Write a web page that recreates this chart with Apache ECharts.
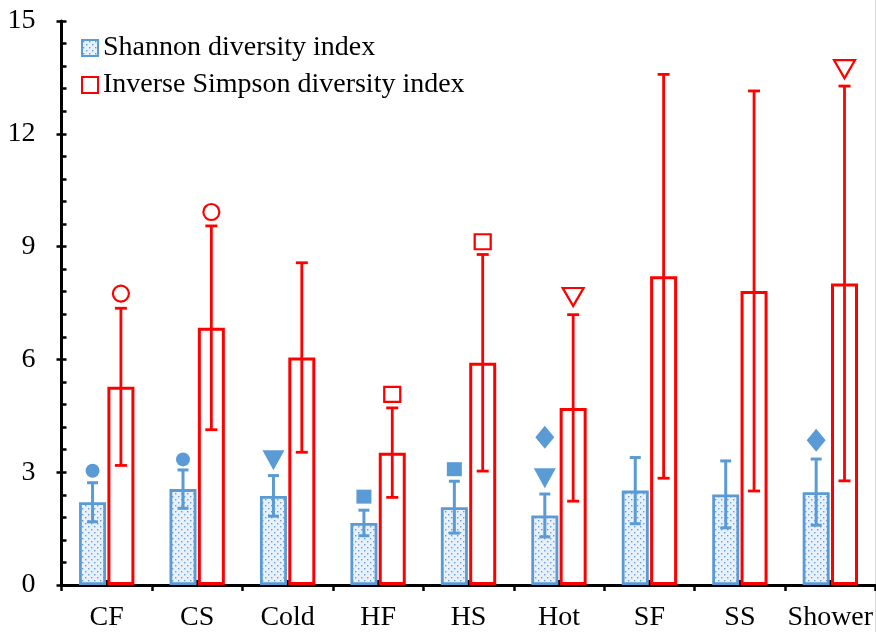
<!DOCTYPE html>
<html>
<head>
<meta charset="utf-8">
<script src="https://cdn.jsdelivr.net/npm/echarts@6/dist/echarts.min.js"></script>
<style>
  html, body { margin: 0; padding: 0; background: #fff; }
  #chart { width: 876px; height: 632px; }
</style>
</head>
<body>
<div id="chart"></div>
<script>
// Sampling sites
const categories = ['CF', 'CS', 'Cold', 'HF', 'HS', 'Hot', 'SF', 'SS', 'Shower'];

// Shannon diversity index: mean and standard deviation
const shannonMean = [2.20, 2.55, 2.37, 1.65, 2.07, 1.85, 2.51, 2.41, 2.47];
const shannonSD   = [0.52, 0.51, 0.54, 0.34, 0.69, 0.57, 0.88, 0.89, 0.88];

// Inverse Simpson diversity index: mean and standard deviation
const simpsonMean = [5.27, 6.84, 6.05, 3.52, 5.91, 4.71, 8.21, 7.82, 8.02];
const simpsonSD   = [2.09, 2.71, 2.52, 1.19, 2.88, 2.48, 5.37, 5.32, 5.25];

// Significance markers above the bars (null = no marker)
const shannonMarkValues = [3.04, 3.34, 3.32, 2.35, 3.08, 2.84, null, null, 3.85];
const shannonMarkShapes = ['circle', 'circle', 'down', 'square', 'square', 'down', null, null, 'diamond'];
const shannonExtraValues = [null, null, null, null, null, 3.93, null, null, null];
const shannonExtraShapes = [null, null, null, null, null, 'diamond', null, null, null];
const simpsonMarkValues = [7.75, 9.92, null, 5.07, 9.13, 7.66, null, null, 13.72];
const simpsonMarkShapes = ['circle', 'circle', null, 'square', 'square', 'down', null, null, 'down'];

// Y axis ticks
const yMin = 0, yMax = 15, yStep = 3;

const BLUE = '#5B9BD5';
const RED = '#FF0000';
const FONT = 'Liberation Serif';
const BAR_W = 27;
const BAR_GAP = 0.05;
const HALF = BAR_W * (1 + BAR_GAP) / 2;

// dotted fill for the Shannon bars
function dotPattern() {
  const c = document.createElement('canvas');
  c.width = 6; c.height = 6;
  const g = c.getContext('2d');
  g.fillStyle = '#e8f0f9';
  g.fillRect(0, 0, 6, 6);
  g.fillStyle = '#6a9fd3';
  g.fillRect(1, 1, 1.4, 1.4);
  g.fillRect(4, 4, 1.4, 1.4);
  return c;
}

const DOWN = 'path://M0,0L2,0L1,1.75Z';
const blueSymbols = {
  circle:  { symbol: 'circle', size: 14 },
  square:  { symbol: 'rect', size: [15, 14] },
  down:    { symbol: DOWN, size: [22, 20] },
  diamond: { symbol: 'diamond', size: [19, 23] }
};
const redSymbols = {
  circle:  { symbol: 'circle', size: 16 },
  square:  { symbol: 'rect', size: [16, 15] },
  down:    { symbol: DOWN, size: [21, 18] }
};

function markerData(values, shapes, table) {
  const out = [];
  values.forEach((v, i) => {
    if (v == null) return;
    const s = table[shapes[i]];
    out.push({ value: [i, v], symbol: s.symbol, symbolSize: s.size });
  });
  return out;
}

function errorBars(means, sds, offset, color, lineW, capW) {
  return {
    type: 'custom',
    xAxisIndex: 0, yAxisIndex: 0,
    z: 5,
    silent: true,
    data: means.map((m, i) => [i, m - sds[i], m + sds[i]]),
    encode: { x: 0, y: [1, 2] },
    renderItem: function (params, api) {
      const lo = api.coord([api.value(0), api.value(1)]);
      const hi = api.coord([api.value(0), api.value(2)]);
      const x = lo[0] + offset;
      const st = { stroke: color, lineWidth: lineW };
      return {
        type: 'group',
        children: [
          { type: 'line', shape: { x1: x, y1: hi[1], x2: x, y2: lo[1] }, style: st },
          { type: 'line', shape: { x1: x - capW / 2, y1: hi[1], x2: x + capW / 2, y2: hi[1] }, style: st },
          { type: 'line', shape: { x1: x - capW / 2, y1: lo[1], x2: x + capW / 2, y2: lo[1] }, style: st }
        ]
      };
    }
  };
}

const chart = echarts.init(document.getElementById('chart'), null, { renderer: 'canvas' });

const option = {
  backgroundColor: '#fff',
  animation: false,
  textStyle: { fontFamily: FONT },
  grid: { left: 61.5, top: 21, width: 816, height: 564, containLabel: false },
  legend: {
    data: ['Shannon diversity index', 'Inverse Simpson diversity index'],
    orient: 'vertical',
    left: 76,
    top: 29,
    itemWidth: 16,
    itemHeight: 16,
    itemGap: 9,
    icon: 'rect',
    textStyle: { fontFamily: FONT, fontSize: 28, color: '#000', lineHeight: 28 }
  },
  xAxis: [
    {
      type: 'category',
      data: categories,
      position: 'bottom',
      axisLine: { lineStyle: { color: '#000', width: 3 } },
      axisTick: { show: true, inside: false, length: 6, lineStyle: { color: '#000', width: 2.5 } },
      axisLabel: { interval: 0, fontFamily: FONT, fontSize: 28, color: '#000', margin: 19 },
      splitLine: { show: false }
    },
    {
      type: 'category',
      data: categories,
      position: 'bottom',
      axisLine: { show: false },
      axisTick: { show: true, inside: true, alignWithLabel: true, interval: 0, length: 5, lineStyle: { color: '#000', width: 3 } },
      axisLabel: { show: false },
      splitLine: { show: false }
    }
  ],
  yAxis: [
    {
      type: 'value',
      min: yMin, max: yMax, interval: yStep,
      axisLine: { show: true, lineStyle: { color: '#000', width: 3 } },
      axisTick: { show: true, inside: false, length: 5, lineStyle: { color: '#000', width: 2.5 } },
      axisLabel: { fontFamily: FONT, fontSize: 28, color: '#000', margin: 26 },
      splitLine: { show: false }
    },
    {
      type: 'value',
      min: yMin, max: yMax, interval: yStep,
      position: 'left',
      axisLine: { show: false },
      axisTick: { show: true, inside: true, length: 5, lineStyle: { color: '#000', width: 2.5 } },
      minorTick: { show: true, splitNumber: 5, length: 5, lineStyle: { color: '#000', width: 2.5 } },
      axisLabel: { show: false },
      splitLine: { show: false }
    }
  ],
  series: [
    {
      name: 'Shannon diversity index',
      type: 'bar',
      xAxisIndex: 0, yAxisIndex: 0,
      barWidth: BAR_W,
      barGap: (BAR_GAP * 100) + '%',
      data: shannonMean,
      itemStyle: { color: { image: dotPattern(), repeat: 'repeat' }, borderColor: BLUE, borderWidth: 2.8 }
    },
    {
      name: 'Inverse Simpson diversity index',
      type: 'bar',
      xAxisIndex: 0, yAxisIndex: 0,
      barWidth: BAR_W,
      data: simpsonMean,
      itemStyle: { color: 'rgba(255,255,255,0)', borderColor: RED, borderWidth: 3 }
    },
    errorBars(shannonMean, shannonSD, -HALF, BLUE, 3, 11),
    errorBars(simpsonMean, simpsonSD, HALF, RED, 2.8, 12),
    {
      type: 'scatter',
      xAxisIndex: 0, yAxisIndex: 0,
      z: 6,
      symbolOffset: [-HALF, 0],
      itemStyle: { color: BLUE, opacity: 1 },
      data: markerData(shannonMarkValues, shannonMarkShapes, blueSymbols)
        .concat(markerData(shannonExtraValues, shannonExtraShapes, blueSymbols))
    },
    {
      type: 'scatter',
      xAxisIndex: 0, yAxisIndex: 0,
      z: 6,
      symbolOffset: [HALF, 0],
      itemStyle: { color: '#fff', borderColor: RED, borderWidth: 2.2, opacity: 1 },
      data: markerData(simpsonMarkValues, simpsonMarkShapes, redSymbols)
    }
  ],
  graphic: [
    {
      type: 'line',
      shape: { x1: 875.5, y1: 0, x2: 875.5, y2: 632 },
      style: { stroke: '#d9d9d9', lineWidth: 1 },
      silent: true
    }
  ]
};

chart.setOption(option);
</script>
</body>
</html>
